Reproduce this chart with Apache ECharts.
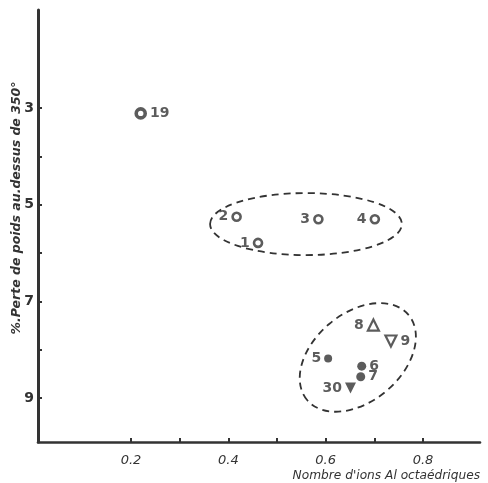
<!DOCTYPE html>
<html>
<head>
<meta charset="utf-8">
<script src="https://cdn.jsdelivr.net/npm/echarts@6/dist/echarts.min.js"></script>
<style>
html,body{margin:0;padding:0;background:#fff;}
#chart{width:488px;height:483px;}
</style>
</head>
<body>
<div id="chart"></div>
<script>
// ---- data ----
const pointIds = ['19', '1', '2', '3', '4', '5', '6', '7', '8', '9', '30'];
const xValues  = [0.220, 0.461, 0.417, 0.585, 0.701, 0.605, 0.674, 0.672, 0.698, 0.734, 0.651];
const yValues  = [3.11, 5.79, 5.25, 5.30, 5.30, 8.18, 8.34, 8.56, 7.49, 7.82, 8.79];
const xTickLabels = [0.2, 0.4, 0.6, 0.8];
const xTickMarks = [0.2, 0.3, 0.4, 0.5, 0.6, 0.7, 0.8];
const yTickLabels = [3, 5, 7, 9];
const yTickMarks = [3, 4, 5, 6, 7, 8, 9];
// group outlines: centre (x, y), semi-axes (in x units), tilt in degrees
const groupCenterX = [0.5595, 0.666];
const groupCenterY = [5.40, 8.16];
const groupSemiA = [0.197, 0.136];
const groupSemiB = [0.0637, 0.0905];
const groupTilt = [0, 40];

// ---- styles (kept separate from data) ----
const ink = '#333';
const markerStyle = {
  '19': {symbol: 'circle', size: 9, fill: '#fff', border: 3.6, pos: 'right'},
  '1':  {symbol: 'circle', size: 8, fill: '#fff', border: 2.6, pos: 'left'},
  '2':  {symbol: 'circle', size: 8, fill: '#fff', border: 2.6, pos: 'left'},
  '3':  {symbol: 'circle', size: 8, fill: '#fff', border: 2.6, pos: 'left'},
  '4':  {symbol: 'circle', size: 8, fill: '#fff', border: 2.6, pos: 'left'},
  '5':  {symbol: 'circle', size: 8, fill: ink, border: 0, pos: 'left'},
  '6':  {symbol: 'circle', size: 9, fill: ink, border: 0, pos: 'right'},
  '7':  {symbol: 'circle', size: 9, fill: ink, border: 0, pos: 'right'},
  '8':  {symbol: 'triangle', size: 11, fill: '#fff', border: 2.2, pos: 'left', rot: 0},
  '9':  {symbol: 'triangle', size: 11, fill: '#fff', border: 2.2, pos: 'right', rot: 180},
  '30': {symbol: 'triangle', size: 11, fill: ink, border: 0, pos: 'left', rot: 180}
};

const scatterData = pointIds.map(function (id, i) {
  const s = markerStyle[id];
  return {
    value: [xValues[i], yValues[i]],
    name: id,
    symbol: s.symbol,
    symbolSize: s.size,
    symbolRotate: s.rot || 0,
    itemStyle: {color: s.fill, borderColor: ink, borderWidth: s.border},
    label: {position: s.pos}
  };
});

const ellipseData = groupCenterX.map(function (cx, i) {
  return [cx, groupCenterY[i], groupSemiA[i], groupSemiB[i], groupTilt[i]];
});

const chart = echarts.init(document.getElementById('chart'), null, {renderer: 'canvas'});
chart.setOption({
  animation: false,
  backgroundColor: '#fff',
  grid: {left: 38, right: 8, top: 10, bottom: 41, containLabel: false},
  xAxis: {
    type: 'value',
    min: 0.009, max: 0.917,
    splitLine: {show: false},
    axisLine: {show: true, onZero: false, lineStyle: {color: ink, width: 2.6}},
    axisTick: {show: true, inside: true, length: 4, lineStyle: {color: ink, width: 2}, customValues: xTickMarks},
    axisLabel: {
      customValues: xTickLabels, margin: 12,
      fontFamily: 'DejaVu Sans', fontStyle: 'italic', fontSize: 13, color: ink,
      formatter: function (v) { return v.toFixed(1); }
    },
    name: "Nombre d'ions Al octaédriques",
    nameLocation: 'end', nameGap: 0,
    nameTextStyle: {
      fontFamily: 'DejaVu Sans', fontStyle: 'italic', fontSize: 12.2, color: ink,
      align: 'right', verticalAlign: 'top', padding: [28, 0, 0, 0]
    }
  },
  yAxis: {
    type: 'value', inverse: true,
    min: 0.97, max: 9.91,
    splitLine: {show: false},
    axisLine: {show: true, onZero: false, lineStyle: {color: ink, width: 3}},
    axisTick: {show: true, inside: true, length: 4, lineStyle: {color: ink, width: 2}, customValues: yTickMarks},
    axisLabel: {
      customValues: yTickLabels, margin: 4,
      fontFamily: 'DejaVu Sans', fontWeight: 'bold', fontSize: 14, color: ink
    }
  },
  graphic: [{
    type: 'text',
    x: 17, y: 208,
    rotation: Math.PI / 2,
    style: {
      text: '%.Perte de poids au.dessus de 350°',
      font: 'italic bold 12.5px "DejaVu Sans"',
      fill: ink,
      align: 'center', verticalAlign: 'middle'
    }
  }],
  series: [{
    type: 'custom',
    z: 1,
    silent: true,
    encode: {x: 0, y: 1},
    data: ellipseData,
    renderItem: function (params, api) {
      const c = api.coord([api.value(0), api.value(1)]);
      const a = api.size([api.value(2), 0])[0];
      const b = api.size([api.value(3), 0])[0];
      return {
        type: 'ellipse',
        x: c[0], y: c[1],
        rotation: api.value(4) * Math.PI / 180,
        shape: {cx: 0, cy: 0, rx: a, ry: b},
        style: {fill: 'none', stroke: ink, lineWidth: 1.8, lineDash: [7, 5]}
      };
    }
  }, {
    type: 'scatter',
    z: 3,
    data: scatterData,
    label: {
      show: true,
      formatter: '{b}',
      distance: 3,
      fontFamily: 'DejaVu Sans', fontWeight: 'bold', fontSize: 14, color: ink
    }
  }]
});
</script>
</body>
</html>
